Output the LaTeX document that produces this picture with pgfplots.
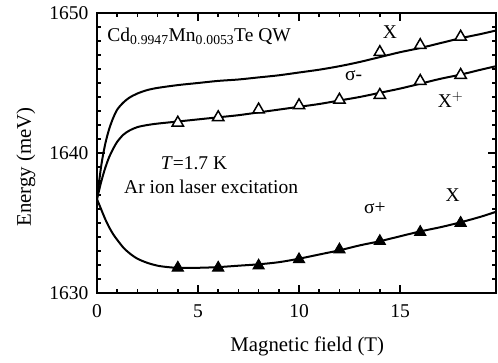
\documentclass[border=0pt]{standalone}
\usepackage{fontspec}
\setmainfont{Liberation Serif}
\usepackage{pgfplots}
\pgfplotsset{compat=1.18}
\begin{document}
\fontsize{19.5}{23}\selectfont
\begin{tikzpicture}
\path[use as bounding box] (0pt,0pt) rectangle (498pt,362pt);
\begin{axis}[
  at={(97pt,69pt)}, anchor=south west, scale only axis, width=399pt, height=280pt,
  xmin=0, xmax=19.75, ymin=1630, ymax=1650,
  xtick={0,5,10,15}, ytick={1630,1640,1650},
  minor x tick num=4, minor y tick num=9,
  tick align=inside, major tick length=8pt, minor tick length=4.5pt,
  axis line style={line width=2pt},
  every tick/.style={line width=1.6pt, black},
  /pgf/number format/assume math mode=true,
  /pgf/number format/set thousands separator={},
  tick label style={font=\fontsize{19.5}{23}\selectfont},
  yticklabel style={xshift=-2pt},
  xticklabel style={yshift=-5pt},
  label style={font=\fontsize{20.8}{24}\selectfont},
  xlabel={Magnetic field (T)},
  ylabel={Energy (meV)},
  xlabel style={at={(axis description cs:0.527,-0.19)}, anchor=center},
  ylabel style={at={(axis description cs:-0.178,0.45)}, anchor=center},
  clip=false,
]
% fit curves
\addplot[black, line width=2pt, smooth] coordinates {
(0,1636.7) (0.2,1639.0) (0.4,1640.6) (0.6,1641.7) (0.8,1642.5) (1.0,1643.1)
(1.3,1643.6) (1.6,1643.95) (2.0,1644.25) (2.5,1644.5) (3,1644.65) (4,1644.85)
(5,1645.0) (6,1645.15) (7,1645.25) (8,1645.4) (9,1645.55) (10,1645.75)
(11,1645.95) (12,1646.2) (13,1646.5) (14,1646.85) (15,1647.2) (16,1647.5)
(17,1647.85) (18,1648.2) (19,1648.5) (19.75,1648.75)};
\addplot[black, line width=2pt, smooth] coordinates {
(0,1636.7) (0.2,1637.9) (0.4,1638.9) (0.6,1639.7) (0.8,1640.3) (1.0,1640.8)
(1.3,1641.3) (1.6,1641.6) (2.0,1641.85) (2.5,1642.0) (3,1642.1) (4,1642.25)
(5,1642.4) (6,1642.55) (7,1642.7) (8,1642.9) (9,1643.1) (10,1643.3)
(11,1643.5) (12,1643.75) (13,1644.0) (14,1644.3) (15,1644.6) (16,1644.95)
(17,1645.3) (18,1645.6) (19,1645.95) (19.75,1646.2)};
\addplot[black, line width=2pt, smooth] coordinates {
(0,1636.7) (0.2,1636.0) (0.4,1635.3) (0.6,1634.7) (0.8,1634.2) (1.0,1633.8)
(1.3,1633.25) (1.6,1632.85) (2.0,1632.45) (2.5,1632.15) (3,1631.95) (3.5,1631.85)
(4,1631.8) (5,1631.8) (6,1631.85) (7,1631.95) (8,1632.05) (9,1632.2)
(10,1632.45) (11,1632.75) (12,1633.05) (13,1633.4) (14,1633.7) (15,1634.05)
(16,1634.4) (17,1634.7) (18,1635.05) (19,1635.45) (19.75,1635.8)};
% data: X (sigma-)
\addplot[only marks, mark=triangle*, mark size=6.5pt, mark options={fill=white, draw=black, line width=1.5pt}] coordinates {
(14,1647.2) (16,1647.7) (18,1648.3)};
% data: X+ (sigma-)
\addplot[only marks, mark=triangle*, mark size=6.5pt, mark options={fill=white, draw=black, line width=1.5pt}] coordinates {
(4,1642.16) (6,1642.55) (8,1643.1) (10,1643.4) (12,1643.8) (14,1644.14) (16,1645.14) (18,1645.57)};
% data: X (sigma+)
\addplot[only marks, mark=triangle*, mark size=6.5pt, mark options={fill=black, draw=black, line width=1pt}] coordinates {
(4,1631.8) (6,1631.8) (8,1631.95) (10,1632.4) (12,1633.1) (14,1633.7) (16,1634.35) (18,1635.0)};
\node[anchor=base west, inner sep=0pt] at (axis cs:0.5,1647.95) {Cd$_{\mathrm{0.9947}}$Mn$_{\mathrm{0.0053}}$Te QW};
\node at (axis cs:14.5,1648.6) {X};
\node at (axis cs:12.7,1645.5) {σ-};
\node at (axis cs:17.5,1643.8) {X$^{+}$};
\node at (axis cs:4.8,1639.3) {\textit{T}=1.7 K};
\node at (axis cs:5.65,1637.6) {Ar ion laser excitation};
\node at (axis cs:13.75,1636.1) {σ+};
\node at (axis cs:17.6,1637.0) {X};
\end{axis}
\end{tikzpicture}
\end{document}
